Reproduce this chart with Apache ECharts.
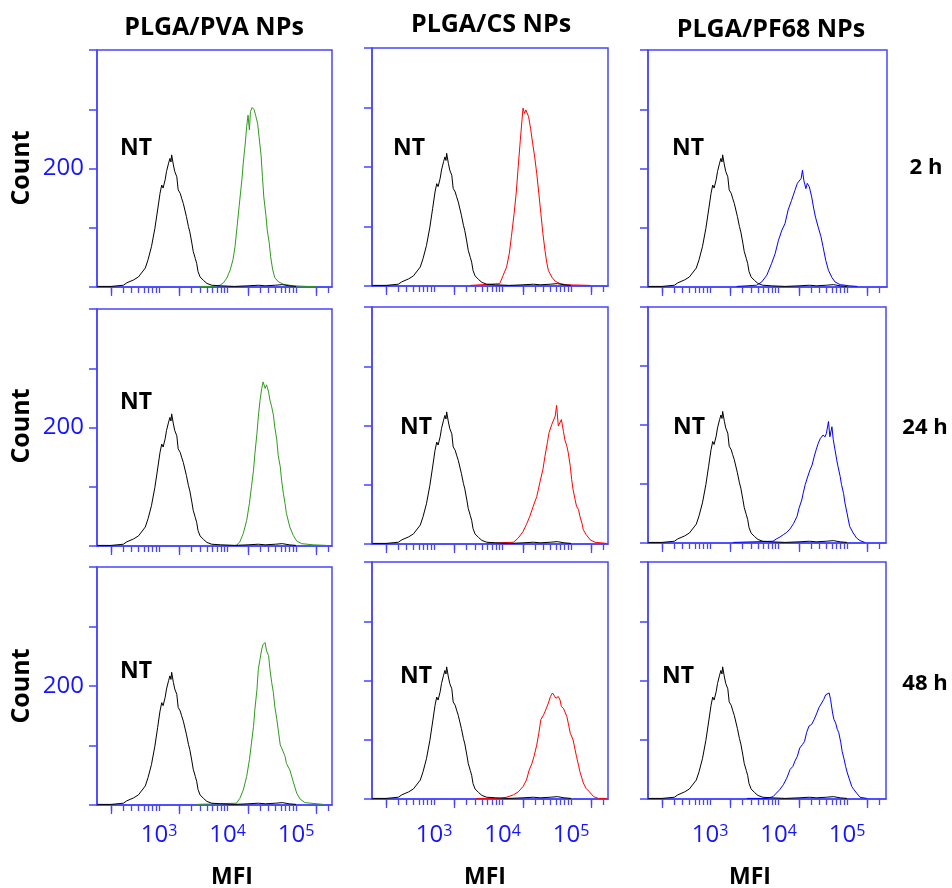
<!DOCTYPE html>
<html><head><meta charset="utf-8">
<script src="https://cdn.jsdelivr.net/npm/echarts@6/dist/echarts.min.js"></script>
<style>html,body{margin:0;padding:0;background:#fff}#c{width:952px;height:888px}</style>
</head><body><div id="c"></div>
<script>
// ---------- labels ----------
const columnTitles = ['PLGA/PVA NPs', 'PLGA/CS NPs', 'PLGA/PF68 NPs'];
const timeLabels = ['2 h', '24 h', '48 h'];
const yTicks = [0, 100, 200, 300, 400];
const yLabelled = [200];
const xDecades = [3, 4, 5];            // labels 10^3, 10^4, 10^5 (x is log10 MFI)
const tickMultiples = [1, 2, 3, 4, 5, 6, 7, 8, 9];

// ---------- data: [log10(MFI), count] ----------
const NT = [[2.10,1],[2.30,1],[2.48,3],[2.53,7],[2.63,12],[2.70,17],[2.80,32],[2.84,46],[2.89,68],[2.94,99],[2.98,130],[3.015,158],[3.04,172],[3.06,167],[3.09,181],[3.11,195],[3.14,209],[3.16,217],[3.175,211],[3.185,223],[3.21,206],[3.23,195],[3.26,186],[3.28,164],[3.31,158],[3.33,150],[3.355,141],[3.38,140],[3.40,119],[3.43,102],[3.45,93],[3.48,74],[3.50,60],[3.53,48],[3.55,40],[3.57,26],[3.60,17],[3.65,11],[3.70,6],[3.77,3],[3.90,2],[4.10,1],[4.30,2],[4.45,3],[4.55,2],[4.70,3],[4.80,4],[4.90,2],[5.00,1]];

const PVA_2h = [[3.60,1],[3.79,1],[3.89,3],[3.94,7],[3.99,15],[4.04,29],[4.08,46],[4.11,68],[4.14,102],[4.17,136],[4.21,181],[4.23,209],[4.26,243],[4.28,271],[4.30,290],[4.32,265],[4.335,296],[4.36,303],[4.39,299],[4.41,290],[4.44,276],[4.46,254],[4.49,223],[4.51,186],[4.53,152],[4.56,122],[4.58,96],[4.61,74],[4.63,51],[4.66,29],[4.69,16],[4.74,9],[4.82,4.5],[4.96,2],[5.16,1],[5.30,1]];
const CS_2h = [[3.53,1],[3.96,4],[4.01,18],[4.06,32],[4.10,55],[4.13,83],[4.17,122],[4.20,156],[4.23,201],[4.26,245],[4.285,279],[4.30,299],[4.32,290],[4.34,296],[4.36,295],[4.38,285],[4.41,265],[4.44,240],[4.47,217],[4.50,189],[4.53,156],[4.56,122],[4.59,88],[4.62,60],[4.645,40],[4.67,26],[4.72,15],[4.77,8],[4.84,4],[4.94,2],[5.28,1]];
const PF68_2h = [[3.39,1],[3.68,3],[3.755,8.5],[3.83,20],[3.90,40],[3.95,56],[4.00,79],[4.05,96],[4.095,107],[4.14,130],[4.19,146],[4.24,163],[4.275,175],[4.30,178],[4.33,183],[4.35,197],[4.37,180],[4.40,166],[4.42,175],[4.45,169],[4.485,152],[4.51,135],[4.54,118],[4.58,101],[4.62,85],[4.65,68],[4.69,45],[4.73,28],[4.78,16],[4.825,8.5],[4.90,4],[5.04,2],[5.15,1]];

const PVA_24h = [[3.65,1],[4.13,1],[4.18,7],[4.23,21],[4.28,43],[4.32,72],[4.35,100],[4.38,128],[4.40,156],[4.43,190],[4.45,218],[4.475,246],[4.50,266],[4.52,277],[4.55,266],[4.57,272],[4.60,260],[4.62,246],[4.645,235],[4.67,221],[4.69,201],[4.72,179],[4.74,153],[4.77,134],[4.79,111],[4.815,89],[4.84,72],[4.86,55],[4.91,32],[4.96,18],[5.01,8.5],[5.08,4],[5.25,2],[5.45,1]];
const CS_24h = [[3.77,1],[4.16,3],[4.23,10],[4.30,21],[4.35,33],[4.40,47],[4.45,64],[4.50,80],[4.55,106],[4.59,126],[4.62,148],[4.655,171],[4.68,188],[4.72,202],[4.74,204],[4.77,216],[4.79,234],[4.815,199],[4.84,196],[4.86,210],[4.89,190],[4.91,176],[4.94,165],[4.96,154],[4.99,131],[5.01,109],[5.03,92],[5.06,75],[5.08,64],[5.11,58],[5.13,47],[5.16,35],[5.18,24],[5.22,16],[5.28,7],[5.35,3],[5.52,1]];
const PF68_24h = [[3.34,1],[3.92,3],[3.97,7],[4.02,10],[4.07,14],[4.12,18],[4.17,24],[4.22,33],[4.27,45],[4.30,59],[4.34,73],[4.36,84],[4.39,99],[4.42,110],[4.46,124],[4.49,132],[4.52,146],[4.55,158],[4.58,169],[4.61,177],[4.63,175],[4.65,183],[4.68,180],[4.70,186],[4.73,206],[4.75,180],[4.78,197],[4.80,175],[4.825,158],[4.85,141],[4.87,129],[4.90,113],[4.92,99],[4.95,84],[4.97,68],[5.00,51],[5.02,39],[5.04,28],[5.09,17],[5.14,8.5],[5.19,4],[5.26,1]];

const PVA_48h = [[3.55,1],[4.13,3],[4.18,11],[4.23,25],[4.28,48],[4.32,76],[4.35,104],[4.38,132],[4.40,161],[4.43,194],[4.45,228],[4.475,245],[4.50,262],[4.52,270],[4.55,273],[4.57,259],[4.60,251],[4.62,228],[4.645,206],[4.67,189],[4.69,166],[4.72,144],[4.74,127],[4.77,101],[4.79,96],[4.815,93],[4.84,82],[4.86,70],[4.91,59],[4.96,39],[5.01,20],[5.06,10],[5.13,4],[5.40,1]];
const CS_48h = [[3.62,1],[3.96,1],[4.06,3],[4.16,7],[4.23,12],[4.30,21],[4.35,32],[4.39,49],[4.43,60],[4.46,72],[4.50,91],[4.53,111],[4.56,134],[4.60,142],[4.63,150],[4.67,162],[4.70,173],[4.73,179],[4.75,181],[4.78,170],[4.815,173],[4.84,167],[4.86,156],[4.89,153],[4.91,156],[4.94,139],[4.96,128],[4.99,111],[5.01,114],[5.03,100],[5.06,83],[5.08,72],[5.11,57],[5.13,46],[5.16,35],[5.18,27],[5.22,18],[5.27,12],[5.33,4],[5.40,1],[5.52,1]];
const PF68_48h = [[3.54,1],[3.83,1],[3.92,4],[3.97,10],[4.02,16],[4.07,24],[4.12,35],[4.17,50],[4.21,55],[4.24,64],[4.275,72],[4.31,86],[4.35,92],[4.38,97],[4.41,112],[4.445,123],[4.485,126],[4.52,134],[4.56,145],[4.59,154],[4.63,162],[4.66,168],[4.69,176],[4.71,173],[4.74,179],[4.76,168],[4.79,145],[4.81,134],[4.835,128],[4.86,117],[4.88,112],[4.91,95],[4.93,80],[4.96,66],[4.98,55],[5.005,44],[5.03,35],[5.07,21],[5.10,16],[5.14,10],[5.19,3],[5.29,1]];

const samples = [
  [PVA_2h, CS_2h, PF68_2h],
  [PVA_24h, CS_24h, PF68_24h],
  [PVA_48h, CS_48h, PF68_48h]
];

// ---------- layout / style ----------
const sampleColors = ['#2f9a1d', '#ff0000', '#0000ff'];
const AXIS = '#4646ff';
const LABEL_BLUE = '#1515ff';
const FONT = '"Open Sans", "DejaVu Sans", sans-serif';
const rects = [
  [[97,50,235,237],[372,48,236,238],[648,50,239,237]],
  [[97,309,235,237],[372,307,236,237],[648,307,238,236]],
  [[97,567,235,238],[372,562,236,237],[648,562,238,237]]
];
const X_MIN = 2.095, PX_PER_DECADE = 68.5;

const grid = [], xAxis = [], yAxis = [], series = [];
for (let r = 0; r < 3; r++) {
  for (let c = 0; c < 3; c++) {
    const p = r * 3 + c;
    const [L, T, W, H] = rects[r][c];
    const xMax = X_MIN + W / PX_PER_DECADE;
    grid.push({left: L, top: T, width: W, height: H, show: true, borderColor: AXIS, borderWidth: 1.5, backgroundColor: 'transparent'});
    const allTicks = [], longTicks = [];
    for (let n = 2; n <= 5; n++) {
      tickMultiples.forEach(k => {
        const v = n + Math.log10(k);
        if (v > X_MIN && v < xMax) { allTicks.push(v); if (k === 2) longTicks.push(v); }
      });
    }
    xAxis.push({
      gridIndex: p, type: 'value', min: X_MIN, max: xMax, position: 'bottom',
      axisLine: {show: true, onZero: false, lineStyle: {color: AXIS, width: 1.5}},
      axisTick: {show: true, inside: false, length: 6, customValues: allTicks, lineStyle: {color: AXIS, width: 1.3}},
      splitLine: {show: false},
      axisLabel: {
        show: r === 2, customValues: xDecades, margin: (r === 2 && c > 0) ? 24 : 18,
        formatter: v => '{a|10}{b|' + Math.round(v) + '}',
        rich: {
          a: {fontSize: 24, fontFamily: FONT, color: LABEL_BLUE, lineHeight: 24},
          b: {fontSize: 16, fontFamily: FONT, color: LABEL_BLUE, lineHeight: 16, verticalAlign: 'top'}
        }
      }
    });
    xAxis.push({
      gridIndex: p, type: 'value', min: X_MIN, max: xMax, position: 'bottom', offset: 0,
      axisLine: {show: false},
      axisTick: {show: true, inside: false, length: 9, customValues: longTicks, lineStyle: {color: AXIS, width: 1.3}},
      splitLine: {show: false}, axisLabel: {show: false}
    });
    yAxis.push({
      gridIndex: p, type: 'value', min: yTicks[0], max: yTicks[yTicks.length - 1], interval: yTicks[1] - yTicks[0],
      axisLine: {show: true, lineStyle: {color: AXIS, width: 1.5}},
      axisTick: {show: true, inside: false, length: 8, lineStyle: {color: AXIS, width: 1.5}},
      splitLine: {show: false},
      axisLabel: {
        show: c === 0, margin: 13, color: LABEL_BLUE, fontSize: 24, fontFamily: FONT,
        formatter: v => yLabelled.indexOf(v) >= 0 ? String(v) : ''
      }
    });
    series.push({
      type: 'line', name: 'NT', xAxisIndex: 2 * p, yAxisIndex: p, data: NT,
      showSymbol: false, symbol: 'none', smooth: false, animation: false,
      lineStyle: {color: '#000000', width: 1}, itemStyle: {color: '#000'}, z: 3
    });
    series.push({
      type: 'line', name: columnTitles[c] + ' ' + timeLabels[r], xAxisIndex: 2 * p, yAxisIndex: p, data: samples[r][c],
      showSymbol: false, symbol: 'none', smooth: false, animation: false,
      lineStyle: {color: sampleColors[c], width: 1}, itemStyle: {color: sampleColors[c]}, z: 2
    });
  }
}

// ---------- text ----------
function txt(text, x, y, size, opts) {
  opts = opts || {};
  return {
    type: 'text', x: x, y: y, rotation: opts.rotation || 0, z: 10,
    style: {
      text: text, fill: opts.fill || '#000',
      font: (opts.bold === false ? '' : 'bold ') + size + 'px ' + FONT,
      align: 'center', verticalAlign: 'middle', textAlign: 'center', textVerticalAlign: 'middle'
    }
  };
}
const titlePos = [[214, 28], [491, 25], [771, 30]];
const ntPos = [
  [[136,148],[409,148],[688,148]],
  [[136,402],[416,427],[689,427]],
  [[136,671],[416,676],[678,676]]
];
const countY = [168, 426, 686];
const timePos = [[926,168],[925,428],[925,684]];
const mfiPos = [[232,877],[485,877],[750,877]];
const graphic = [];
columnTitles.forEach((t, i) => graphic.push(txt(t, titlePos[i][0], titlePos[i][1], 25)));
timeLabels.forEach((t, i) => {
  graphic.push(txt(t, timePos[i][0], timePos[i][1], 22));
  graphic.push(txt('Count', 22, countY[i], 25, {rotation: Math.PI / 2}));
  graphic.push(txt('MFI', mfiPos[i][0], mfiPos[i][1], 23));
});
for (let r = 0; r < 3; r++) for (let c = 0; c < 3; c++) graphic.push(txt('NT', ntPos[r][c][0], ntPos[r][c][1], 23));

const chart = echarts.init(document.getElementById('c'));
chart.setOption({
  backgroundColor: '#ffffff',
  animation: false,
  grid: grid, xAxis: xAxis, yAxis: yAxis, series: series,
  graphic: graphic
});
</script>
</body></html>
